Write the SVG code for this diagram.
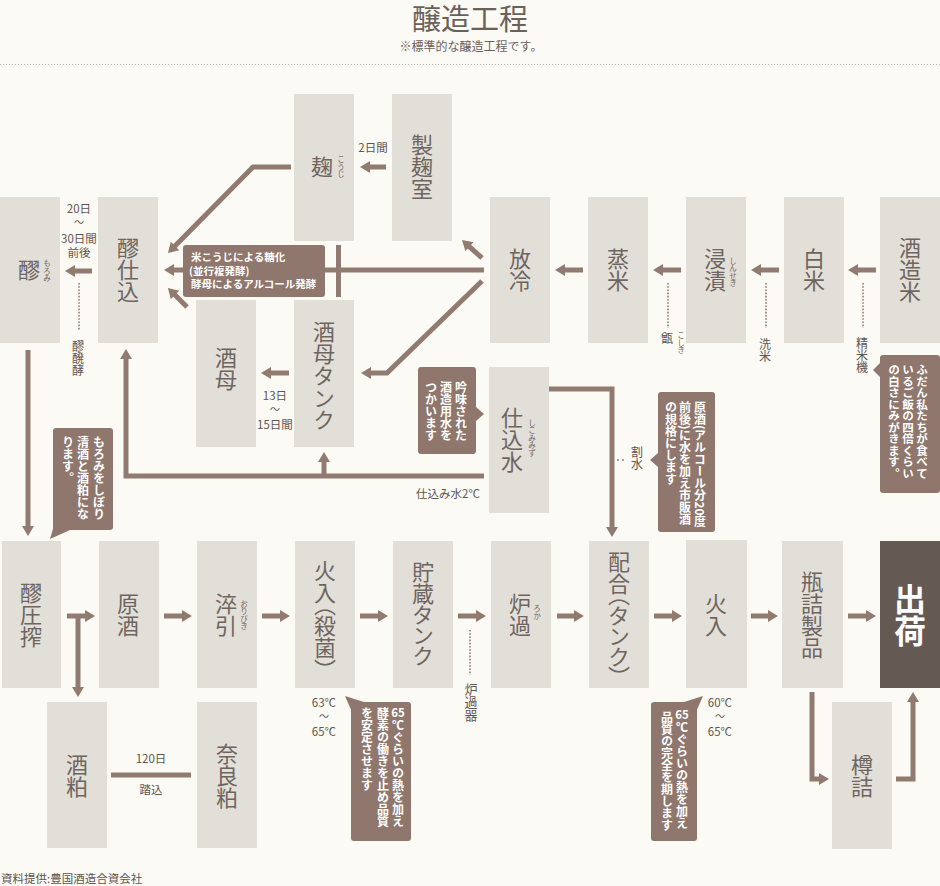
<svg xmlns="http://www.w3.org/2000/svg" width="940" height="886" viewBox="0 0 940 886">
<defs>
<style>
text{font-family:"Noto Sans CJK JP","Noto Sans",sans-serif}
.bx{fill:#e2dfd9}
.bt{font-size:22px;fill:#6e6560;writing-mode:vertical-rl;text-anchor:middle}
.rb{font-size:7.5px;fill:#6e6560;writing-mode:vertical-rl;text-anchor:middle}
.lb{font-size:11.5px;fill:#5e5550;text-anchor:middle}
.tl{font-size:10px;fill:#5e5550;text-anchor:middle}
.lv{font-size:12px;fill:#5e5550;writing-mode:vertical-rl;text-anchor:start}
.cb{fill:#8f776d}
.ct{font-size:12px;font-weight:bold;fill:#fff;writing-mode:vertical-rl;text-anchor:start}
.ch{font-size:11.5px;font-weight:bold;fill:#fff;text-anchor:middle}
.nt{font-size:10.5px;font-weight:bold;fill:#fff}
.ar{fill:none;stroke:#917a70;stroke-width:5;marker-end:url(#ah)}
.ln{fill:none;stroke:#917a70;stroke-width:5}
.dt{fill:none;stroke:#917a70;stroke-width:1.6;stroke-dasharray:1.6 1.6}
</style>
<marker id="ah" markerUnits="userSpaceOnUse" markerWidth="12" markerHeight="12" viewBox="0 0 10 12" refX="5" refY="6" orient="auto"><path d="M0,0 L10,6 L0,12 z" fill="#917a70"/></marker>
</defs>
<rect width="940" height="886" fill="#fcfaf4"/>

<g id="title">
<text x="470" y="30" style="font-size:29px;fill:#6b615b;text-anchor:middle">醸造工程</text>
<text x="471" y="51" style="font-size:12px;fill:#6b615b;text-anchor:middle">※標準的な醸造工程です。</text>
<line x1="0" y1="64.5" x2="940" y2="64.5" stroke="#bcb1a7" stroke-width="1" stroke-dasharray="1 2"/>
</g>

<g id="connectors">
<path class="ar" d="M876,270H853"/>
<path class="ar" d="M779,270H756"/>
<path class="ar" d="M681,270H658"/>
<path class="ar" d="M583,270H560"/>
<path class="ar" d="M484,270H169"/>
<rect x="336" y="245" width="5" height="52" fill="#917a70"/>
<path class="ar" d="M386,167H365"/>
<path class="ar" d="M291,167H253L171.5,249.5"/>
<path class="ar" d="M482,258L465.7,243.3"/>
<path class="ar" d="M482,281L387,373H366"/>
<path class="ar" d="M187,307L171.5,291.5"/>
<path class="ar" d="M289,373H266"/>
<path class="ar" d="M484,476H126V354"/>
<path class="ar" d="M324,476V457"/>
<path class="ar" d="M92,271H70"/>
<path class="ar" d="M28,350V531"/>
<path class="ar" d="M549,389H612V532"/>
<path class="ar" d="M67,616H90"/>
<path class="ar" d="M78,616V692"/>
<path class="ar" d="M164,616H187"/>
<path class="ar" d="M262,616H285"/>
<path class="ar" d="M360,616H383"/>
<path class="ar" d="M458,616H481"/>
<path class="ar" d="M557,616H579"/>
<path class="ar" d="M654,616H677"/>
<path class="ar" d="M751,616H773"/>
<path class="ar" d="M848,616H871"/>
<path class="ar" d="M812,692V779H824"/>
<path class="ar" d="M896,779H913V697"/>
<path class="ln" d="M111,775H191"/>
<path class="dt" d="M79,283V330"/>
<path class="dt" d="M668,283V328"/>
<path class="dt" d="M766,283V328"/>
<path class="dt" d="M863,283V328"/>
<path class="dt" d="M470,630V675"/>
<circle cx="618" cy="460" r="0.9" fill="#917a70"/>
<circle cx="623" cy="460" r="0.9" fill="#917a70"/>
</g>

<g id="moromi"><rect class="bx" x="0" y="197" width="60" height="146"/><text class="bt" x="29" y="270">醪</text><text class="rb" x="47" y="271">もろみ</text></g>
<g id="moromi-shikomi"><rect class="bx" x="98" y="197" width="60" height="146"/><text class="bt" x="128" y="270">醪仕込</text></g>
<g id="koji"><rect class="bx" x="294" y="94" width="60" height="147"/><text class="bt" x="322" y="167">麹</text><text class="rb" x="341" y="167">こうじ</text></g>
<g id="seikikushitsu"><rect class="bx" x="392" y="94" width="60" height="147"/><text class="bt" x="422" y="167">製麹室</text></g>
<g id="horei"><rect class="bx" x="490" y="197" width="60" height="146"/><text class="bt" x="520" y="270">放冷</text></g>
<g id="mushimai"><rect class="bx" x="588" y="197" width="60" height="146"/><text class="bt" x="618" y="270">蒸米</text></g>
<g id="shinseki"><rect class="bx" x="686" y="197" width="60" height="146"/><text class="bt" x="715" y="270">浸漬</text><text class="rb" x="733" y="272">しんせき</text></g>
<g id="hakumai"><rect class="bx" x="784" y="197" width="60" height="146"/><text class="bt" x="814" y="270">白米</text></g>
<g id="shuzomai"><rect class="bx" x="880" y="197" width="60" height="146"/><text class="bt" x="910" y="270">酒造米</text></g>
<g id="shubo"><rect class="bx" x="196" y="300" width="60" height="147"/><text class="bt" x="226" y="369">酒母</text></g>
<g id="shubo-tank"><rect class="bx" x="294" y="300" width="60" height="147"/><text class="bt" x="324" y="376">酒母タンク</text></g>
<g id="shikomimizu"><rect class="bx" x="489" y="367" width="60" height="146"/><text class="bt" x="512" y="440">仕込水</text><text class="rb" x="532" y="438">しこみみず</text></g>

<g id="assaku"><rect class="bx" x="2" y="541" width="59" height="147"/><text class="bt" x="31" y="615">醪圧搾</text></g>
<g id="genshu"><rect class="bx" x="99" y="541" width="60" height="147"/><text class="bt" x="128" y="615">原酒</text></g>
<g id="oribiki"><rect class="bx" x="197" y="541" width="60" height="147"/><text class="bt" x="226" y="615">淬引</text><text class="rb" x="244" y="615">おりびき</text></g>
<g id="hiire1"><rect class="bx" x="295" y="541" width="60" height="147"/><text class="bt" x="325" y="615" style="font-feature-settings:'vpal'">火入（殺菌）</text></g>
<g id="chozo"><rect class="bx" x="393" y="541" width="60" height="147"/><text class="bt" x="423" y="613" style="font-feature-settings:'vpal'">貯蔵タンク</text></g>
<g id="roka"><rect class="bx" x="491" y="541" width="60" height="147"/><text class="bt" x="520" y="615">炉過</text><text class="rb" x="537" y="612">ろか</text></g>
<g id="chogo"><rect class="bx" x="589" y="541" width="60" height="147"/><text class="bt" x="619" y="614" style="font-feature-settings:'vpal'">配合（タンク）</text></g>
<g id="hiire2"><rect class="bx" x="686" y="540" width="61" height="148"/><text class="bt" x="716" y="615">火入</text></g>
<g id="binzume"><rect class="bx" x="782" y="541" width="61" height="147"/><text class="bt" x="812" y="615">瓶詰製品</text></g>
<g id="shukka"><rect x="880" y="541" width="60" height="147" fill="#655953"/><text class="bt" x="910" y="615" style="font-size:32px;fill:#fff;font-weight:bold">出荷</text></g>
<g id="sakekasu"><rect class="bx" x="47" y="702" width="60" height="146"/><text class="bt" x="77" y="776">酒粕</text></g>
<g id="narakasu"><rect class="bx" x="197" y="702" width="60" height="146"/><text class="bt" x="227" y="776">奈良粕</text></g>
<g id="taruzume"><rect class="bx" x="832" y="702" width="60" height="147"/><text class="bt" x="862" y="776">樽詰</text></g>

<g id="labels">
<text class="lb" x="373" y="152">2日間</text>
<text class="lb" x="79" y="213">20日</text>
<text class="tl" x="79" y="226">～</text>
<text class="lb" x="79" y="243">30日間</text>
<text class="lb" x="79" y="257">前後</text>
<text class="lv" x="78" y="340">醪醗酵</text>
<text class="lb" x="275" y="400">13日</text>
<text class="tl" x="275" y="413">～</text>
<text class="lb" x="275" y="429">15日間</text>
<text class="lb" x="448" y="498">仕込み水2℃</text>
<text class="lv" x="637" y="446">割水</text>
<text class="lv" x="667" y="332">甑</text>
<text class="rb" x="681" y="343">こしき</text>
<text class="lv" x="765" y="338">洗米</text>
<text class="lv" x="862" y="337">精米機</text>
<text class="lb" x="324" y="707">63℃</text>
<text class="tl" x="324" y="720">～</text>
<text class="lb" x="324" y="736">65℃</text>
<text class="lb" x="720" y="707">60℃</text>
<text class="tl" x="720" y="720">～</text>
<text class="lb" x="720" y="736">65℃</text>
<text class="lv" x="471" y="683" style="font-size:13px">炉過器</text>
<text class="lb" x="151" y="763">120日</text>
<text class="lb" x="151" y="794">踏込</text>
<text x="1" y="883" style="font-size:11.5px;fill:#5e5550">資料提供:豊国酒造合資会社</text>
</g>

<g id="note-koji">
<rect class="cb" x="183" y="245" width="142" height="52" rx="3"/>
<text class="nt" x="191" y="261">米こうじによる糖化</text>
<text class="nt" x="189" y="274.5">(並行複発酵)</text>
<text class="nt" x="191" y="288">酵母によるアルコール発酵</text>
</g>
<g id="note-mizu">
<rect class="cb" x="418" y="367" width="58" height="87" rx="3"/>
<polygon class="cb" points="476,407 484,414 476,421"/>
<text class="ct" x="461" y="381">吟味された</text>
<text class="ct" x="446" y="381">酒造用水を</text>
<text class="ct" x="431" y="381">つかいます</text>
</g>
<g id="note-moromi">
<rect class="cb" x="53" y="428" width="60" height="102" rx="3"/>
<polygon class="cb" points="55,522 70,530 50,539"/>
<text class="ct" x="99" y="436">もろみをしぼり</text>
<text class="ct" x="83" y="436">清酒と酒粕にな</text>
<text class="ct" x="68" y="436">ります。</text>
</g>
<g id="note-warimizu">
<rect class="cb" x="658" y="392" width="57" height="140" rx="3"/>
<polygon class="cb" points="658,453 650,460 658,467"/>
<text class="ct" x="700" y="401">原酒(アルコール分20度</text>
<text class="ct" x="685" y="401">前後)に水を加え市販酒</text>
<text class="ct" x="671" y="401">の規格にします</text>
</g>
<g id="note-seimai">
<rect class="cb" x="880" y="355" width="60" height="138" rx="3"/>
<polygon class="cb" points="880,363 873,370 880,377"/>
<text class="ct" x="922" y="364" style="font-size:11.5px">ふだん私たちが食べて</text>
<text class="ct" x="908" y="364" style="font-size:11.5px">いるご飯の四倍くらい</text>
<text class="ct" x="894" y="364" style="font-size:11.5px">の白さにみがきます。</text>
</g>
<g id="note-hiire1">
<rect class="cb" x="351" y="702" width="60" height="139" rx="3"/>
<polygon class="cb" points="352,712 364,702 345,696"/>
<text class="ch" x="398" y="717">65</text>
<text class="ct" x="398" y="719">℃ぐらいの熱を加え</text>
<text class="ct" x="383" y="707">酵素の働きを止め品質</text>
<text class="ct" x="367" y="707">を安定させます</text>
</g>
<g id="note-hiire2">
<rect class="cb" x="651" y="702" width="46" height="139" rx="3"/>
<polygon class="cb" points="696,712 684,702 703,696"/>
<text class="ch" x="682" y="719">65</text>
<text class="ct" x="682" y="721">℃ぐらいの熱を加え</text>
<text class="ct" x="667" y="711">品質の完全を期します</text>
</g>
</svg>
